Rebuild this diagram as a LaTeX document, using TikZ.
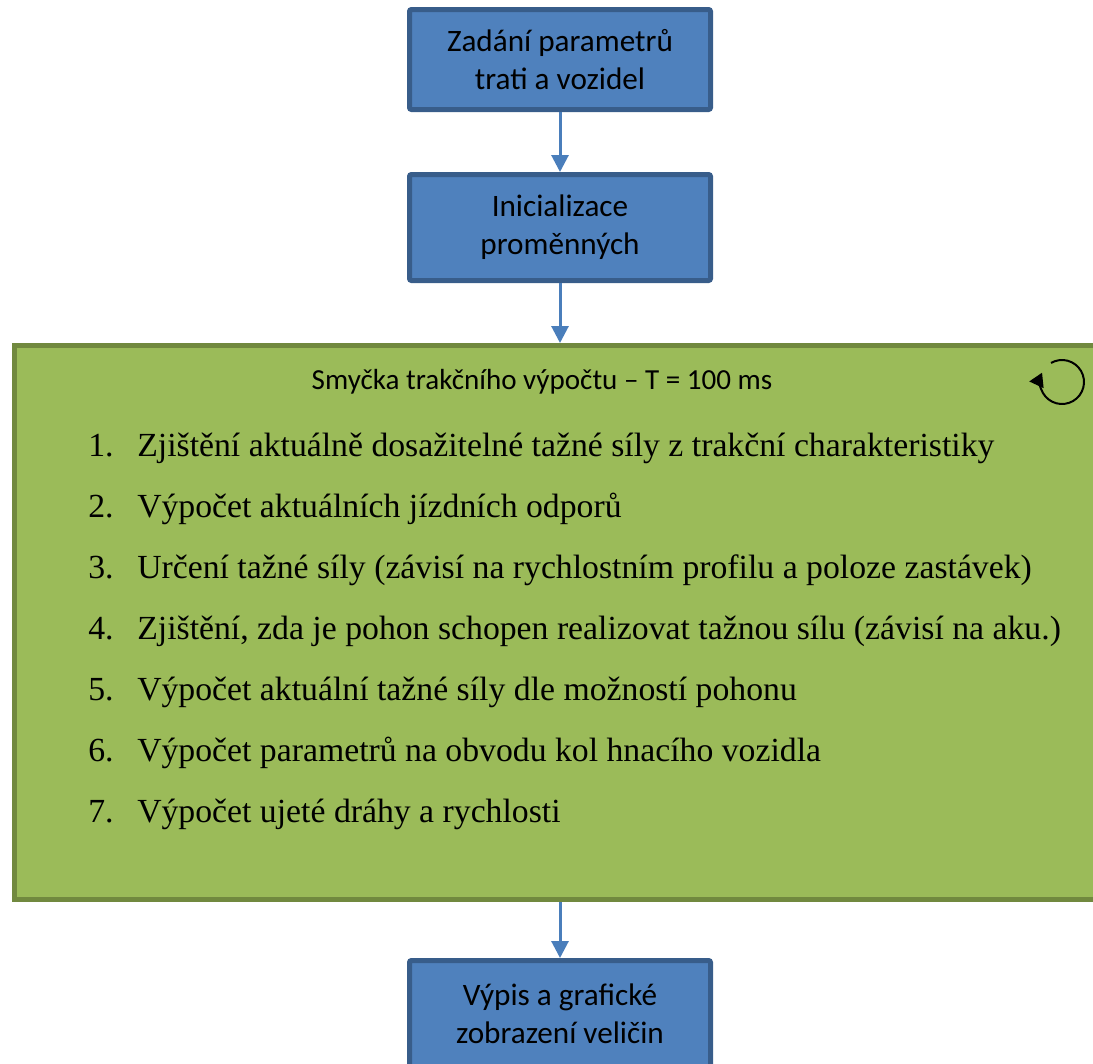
\documentclass[tikz,border=0pt]{standalone}
\usepackage{fontspec}
\setmainfont{Liberation Serif}
\newfontfamily\carlito{Carlito}
\usetikzlibrary{arrows.meta,positioning}
\definecolor{boxblue}{RGB}{79,129,189}
\definecolor{boxblueline}{RGB}{56,93,138}
\definecolor{loopgreen}{RGB}{155,187,89}
\definecolor{loopgreenline}{RGB}{113,137,63}
\definecolor{arrowblue}{RGB}{74,126,187}

\begin{document}
\begin{tikzpicture}[x=0.75pt,y=-0.75pt,node distance=45pt,
  krok/.style={draw=boxblueline,fill=boxblue,line width=3.75pt,rounded corners=1.5pt,
               minimum width=225.75pt,minimum height=75pt,align=center,
               font=\carlito\fontsize{23.4}{28.5}\selectfont},
  smycka/.style={draw=loopgreenline,fill=loopgreen,line width=3.75pt,
               minimum width=818pt,minimum height=415.5pt},
  titul/.style={font=\carlito\fontsize{21.8}{26}\selectfont,inner sep=0pt},
  polozka/.style={font=\rmfamily\fontsize{25.3}{30}\selectfont,inner sep=0pt},
  ar/.style={-{Triangle[width=12.75pt,length=12.75pt]},arrowblue,line width=2.25pt},
  ikona/.style={-{Triangle[width=11.5pt,length=10pt]},black,line width=1.5pt}]
\useasboundingbox (0,0) rectangle (1093,1064);

\node[krok] (zad) at (560,59.5) {Zadání parametrů\\trati a vozidel};
\node[krok,below=of zad,minimum height=79.5pt] (ini) {Inicializace\\proměnných};
\node[smycka,below=of ini] (sm) {};
\node[krok,below=42pt of sm,minimum height=79.5pt] (vyp) {Výpis a grafické\\zobrazení veličin};

\node[titul,anchor=base] (tit) at ([xshift=-13.5pt,yshift=-34.5pt]sm.north)
  {Smyčka trakčního výpočtu – T = 100 ms};
\draw[ikona] (1062,382) ++(-120:22) arc[start angle=120,end angle=-205,radius=16.5pt];

\foreach \txt [count=\i] in {%
  {Zjištění aktuálně dosažitelné tažné síly z trakční charakteristiky},
  {Výpočet aktuálních jízdních odporů},
  {Určení tažné síly (závisí na rychlostním profilu a poloze zastávek)},
  {Zjištění, zda je pohon schopen realizovat tažnou sílu (závisí na aku.)},
  {Výpočet aktuální tažné síly dle možností pohonu},
  {Výpočet parametrů na obvodu kol hnacího vozidla},
  {Výpočet ujeté dráhy a rychlosti}} {
  \node[polozka,anchor=base west] (c\i) at (88,{456+61*(\i-1)}) {\i.};
  \node[polozka,anchor=base west] (p\i) at (137,{456+61*(\i-1)}) {\txt};
}

\draw[ar] (zad)--(ini); \draw[ar] (ini)--(sm); \draw[ar] (sm)--(vyp);
\end{tikzpicture}
\end{document}
